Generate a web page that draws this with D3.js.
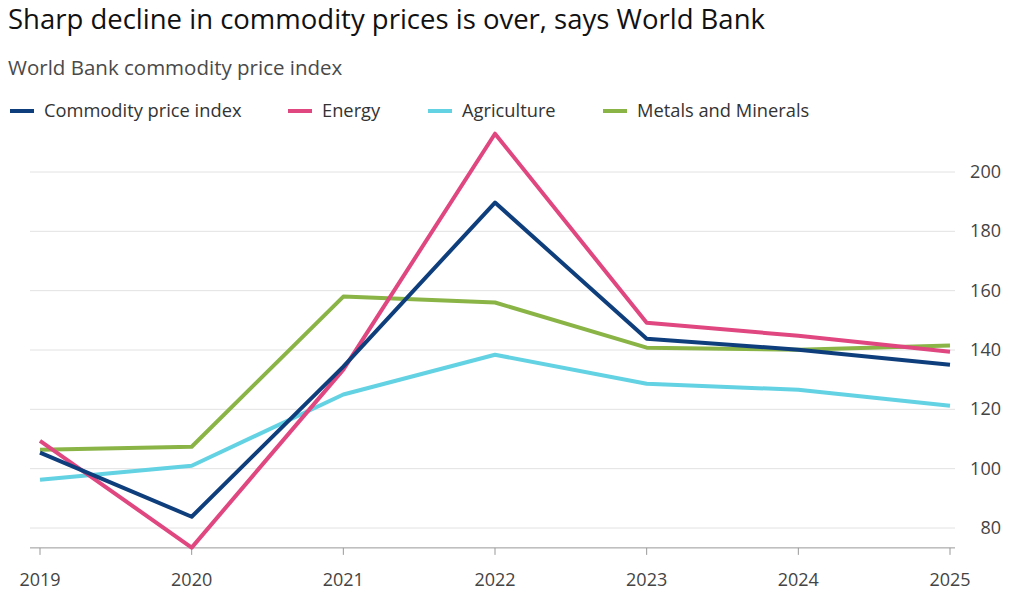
<!DOCTYPE html>
<html><head><meta charset="utf-8">
<script src="https://cdn.jsdelivr.net/npm/d3@7"></script>
<style>
body{margin:0;background:#fff;font-family:"Open Sans",Lato,sans-serif;}
</style></head><body><div id="main"></div>
<script>
const years = [2019, 2020, 2021, 2022, 2023, 2024, 2025];
const commodity = [105.4, 83.8, 134.4, 189.7, 143.8, 140.1, 135.0];
const energy = [109.4, 73.4, 133.4, 212.9, 149.2, 144.8, 139.4];
const agriculture = [96.3, 101.0, 125.0, 138.4, 128.6, 126.6, 121.2];
const metals = [106.4, 107.4, 158.0, 156.0, 140.8, 140.1, 141.5];
const yTicks = [80, 100, 120, 140, 160, 180, 200];

const series = [
  {name: "Commodity price index", values: commodity, color: "#0f3e7d"},
  {name: "Energy", values: energy, color: "#e0467f"},
  {name: "Agriculture", values: agriculture, color: "#63d2e3"},
  {name: "Metals and Minerals", values: metals, color: "#8ab446"}
];

const W = 1014, H = 605;
const svg = d3.select("#main").append("svg").attr("width", W).attr("height", H);

svg.append("text").attr("x", 8).attr("y", 29).attr("font-size", 27.5).attr("fill", "#111")
  .text("Sharp decline in commodity prices is over, says World Bank");
svg.append("text").attr("x", 8).attr("y", 75).attr("font-size", 20.5).attr("fill", "#4a4a4a")
  .text("World Bank commodity price index");

// legend
const legX = [10, 288, 428, 603];
series.forEach((s, i) => {
  const g = svg.append("g").attr("transform", "translate(" + legX[i] + ",111)");
  g.append("line").attr("x1", 0).attr("x2", 24).attr("stroke", s.color).attr("stroke-width", 4);
  g.append("text").attr("x", 34).attr("y", 6).attr("font-size", 18.3).attr("fill", "#333").text(s.name);
});

const x = d3.scaleLinear().domain([2019, 2025]).range([40, 950]);
const y = d3.scaleLinear().domain([80, 200]).range([528, 172]);
const bottom = y(73.3);

// grid
svg.append("g").selectAll("line").data(yTicks).enter().append("line")
  .attr("x1", 30).attr("x2", 955)
  .attr("y1", d => y(d)).attr("y2", d => y(d))
  .attr("stroke", "#e2e2e2").attr("stroke-width", 1);

// y labels
svg.append("g").selectAll("text").data(yTicks).enter().append("text")
  .attr("x", 1001).attr("y", d => y(d) + 6).attr("text-anchor", "end")
  .attr("font-size", 18).attr("fill", "#444").text(d => d);

// x axis
svg.append("line").attr("x1", 30).attr("x2", 955).attr("y1", bottom).attr("y2", bottom)
  .attr("stroke", "#999").attr("stroke-width", 1);
svg.append("g").selectAll("line").data(years).enter().append("line")
  .attr("x1", d => x(d)).attr("x2", d => x(d)).attr("y1", bottom).attr("y2", bottom + 7)
  .attr("stroke", "#999");
svg.append("g").selectAll("text").data(years).enter().append("text")
  .attr("x", d => x(d)).attr("y", bottom + 38).attr("text-anchor", "middle")
  .attr("font-size", 18).attr("fill", "#444").text(d => d);

const line = d3.line().x((d, i) => x(years[i])).y(d => y(d));
[3, 2, 1, 0].forEach(i => {
  svg.append("path").attr("d", line(series[i].values)).attr("fill", "none")
    .attr("stroke", series[i].color).attr("stroke-width", 4).attr("stroke-linejoin", "round");
});
</script></body></html>
